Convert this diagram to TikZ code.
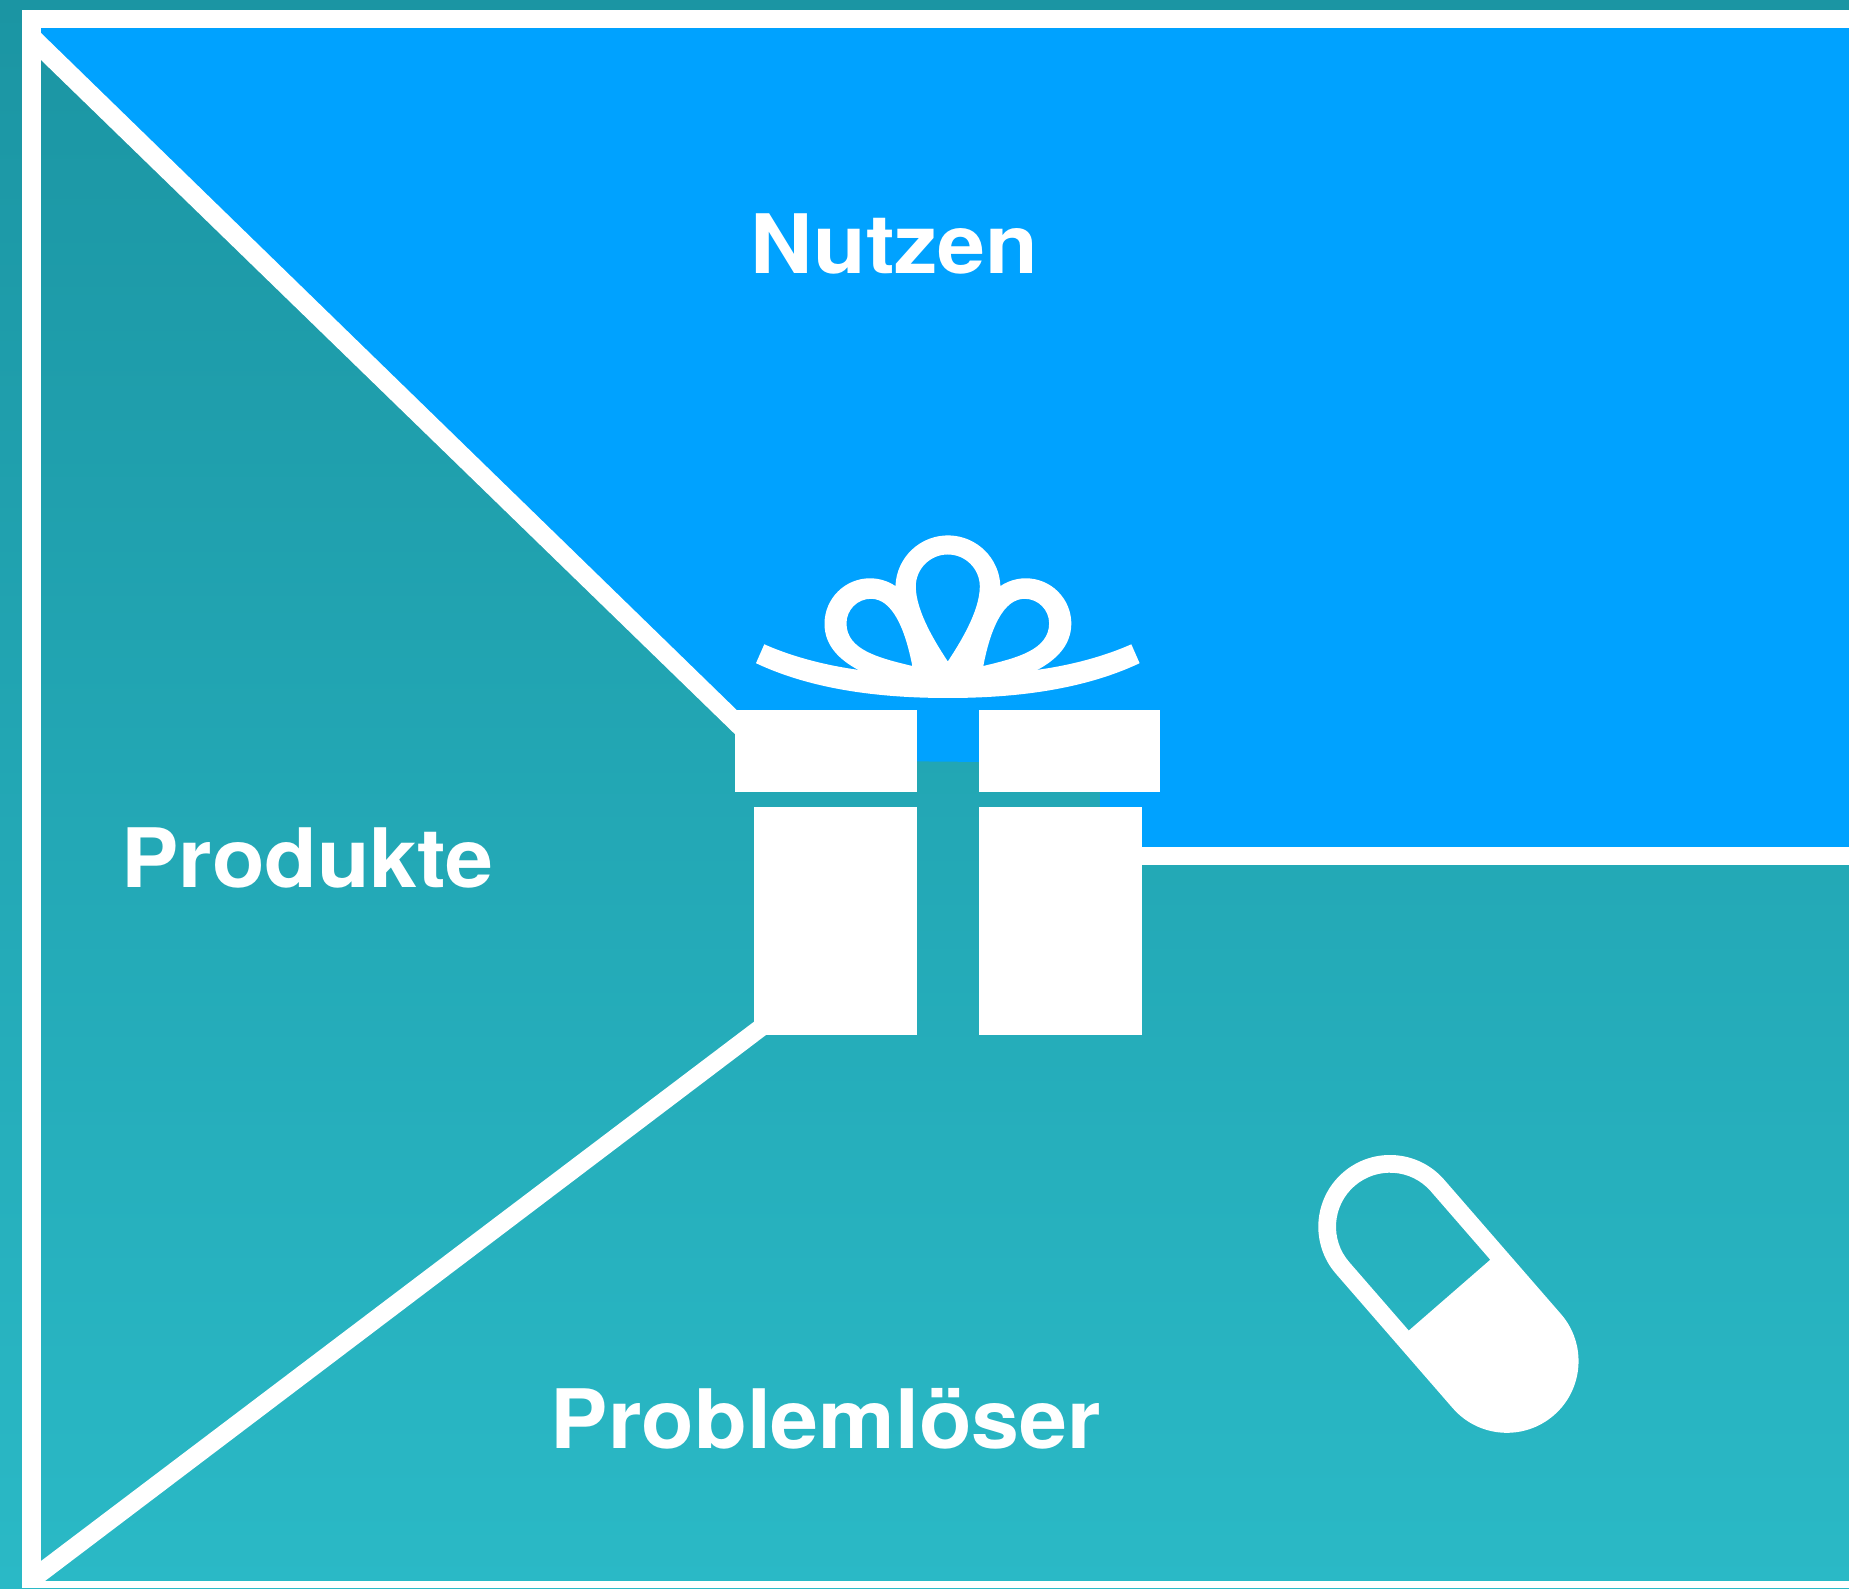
\documentclass[tikz,border=0pt]{standalone}
\usepackage{fontspec}
\setmainfont{TeX Gyre Heros}
\newfontfamily\labelfont[FakeStretch=1.05]{TeX Gyre Heros}
\definecolor{tealtop}{HTML}{1B95A3}
\definecolor{tealbottom}{HTML}{2AB9C6}
\definecolor{skyblue}{HTML}{00A2FF}
\tikzset{
    whitepart/.style={fill=white,draw=none},
    bigtext/.style={text=white,inner sep=0pt,anchor=base,font=\fontsize{82}{82}\labelfont\bfseries}
}
\begin{document}
\begin{tikzpicture}[x=1pt,y=1pt]
    \useasboundingbox (0,0) rectangle (1849,1588);
    \fill[top color=tealtop,bottom color=tealbottom] (0,0) rectangle (1849,1588);
    \fill[skyblue] (41,1560) -- (1849,1560) -- (1849,730) -- (1100,730) -- (1100,825) -- (917,826.6)
        -- (745,828) -- (737,860) -- (41,1540) -- cycle;

    \fill[whitepart] (22,1578) rectangle (1849,1560);
    \fill[whitepart] (22,0) rectangle (41,1578);
    \fill[whitepart] (22,0) rectangle (1849,7);
    \fill[whitepart] (1135,723) rectangle (1849,741.3);
    \fill[whitepart] (41,1555) -- (736.7,878) -- (735.3,853.5) -- (41,1528) -- cycle;
    \fill[whitepart] (41,27) -- (754,566.3) -- (766,553) -- (45,7) -- (30,7) -- cycle;

    \fill[whitepart] (735.3,796) rectangle (917,878);
    \fill[whitepart] (978.7,796) rectangle (1160.3,878);
    \fill[whitepart] (754,553) rectangle (917,780.7);
    \fill[whitepart] (978.7,553) rectangle (1141.7,780.7);

    \fill[whitepart] (764.3,943.7) .. controls (795,930) and (830,922) .. (858,918.2) -- (947.8,910) -- (1037.6,918.2)
        .. controls (1065.6,922) and (1100.6,930) .. (1131.3,943.7) -- (1139.6,924.8)
        .. controls (1080.6,897) and (1010.6,890) .. (947.8,890)
        .. controls (885,890) and (815,897) .. (756,924.8) -- cycle;
    \fill[whitepart,even odd rule] (858,918.2) .. controls (840,928) and (824.5,942) .. (824.5,964.2)
        arc (180:56:45.5) arc (178:2:52.5) arc (124:0:45.5)
        .. controls (1071.1,942) and (1055.6,928) .. (1037.6,918.2) -- (947.8,900) -- cycle
        (947.8,926.5) .. controls (937,943) and (915.8,976) .. (915.8,1001.5)
        arc (180:0:32) .. controls (979.8,976) and (958.6,943) .. cycle
        (912.3,922) .. controls (905,960) and (892,989.2) .. (871,989.2)
        arc (90:180:24.5) .. controls (846.5,938) and (879,930) .. cycle
        (983.3,922) .. controls (990.6,960) and (1003.6,989.2) .. (1024.6,989.2)
        arc (90:0:24.5) .. controls (1049.1,938) and (1016.6,930) .. cycle;

    \begin{scope}[shift={(1390,361.3)},rotate=-49]
        \fill[whitepart,even odd rule] (0,71.7) arc (90:270:71.7) -- (178.1,-71.7) arc (-90:90:71.7) -- cycle
            (0,54) arc (90:270:54) -- (90.7,-54) -- (90.7,54) -- cycle;
    \end{scope}

    \node[bigtext] (nutzen) at (894.5,1314.4) {Nutzen};
    \node[bigtext] (produkte) at (307.5,700.2) {Produkte};
    \node[bigtext] (problemloeser) at (826,140) {Problemlöser};
\end{tikzpicture}
\end{document}
